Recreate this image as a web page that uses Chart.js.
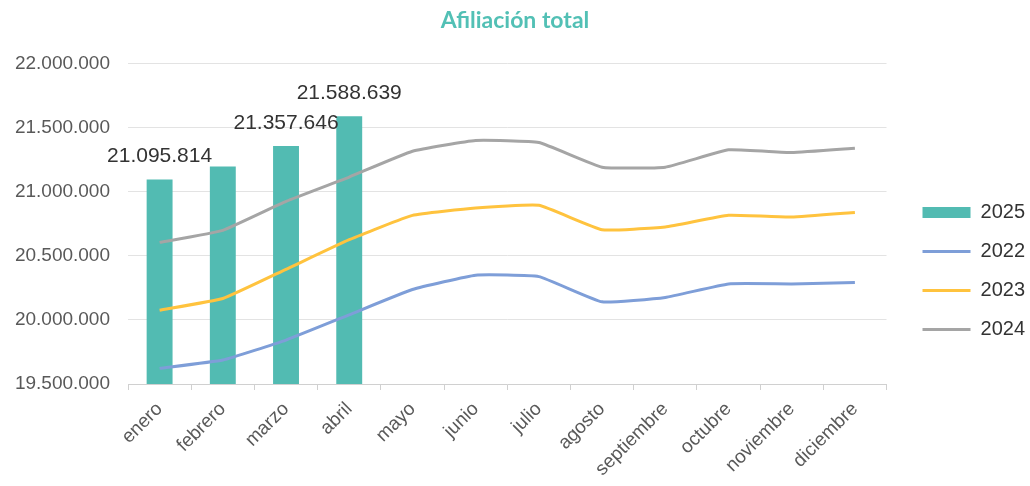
<!DOCTYPE html>
<html>
<head>
<meta charset="utf-8">
<script src="https://cdn.jsdelivr.net/npm/chart.js@4"></script>
<style>
  body { margin: 0; background: #fff; }
  #wrap { width: 1030px; height: 486px; }
</style>
</head>
<body>
<div id="wrap"><canvas id="afiliacionChart" width="1030" height="486"></canvas></div>
<script>
// Meses y valores de afiliación
const meses = ['enero', 'febrero', 'marzo', 'abril', 'mayo', 'junio', 'julio', 'agosto', 'septiembre', 'octubre', 'noviembre', 'diciembre'];
const afil2025 = [21095814, 21197000, 21357646, 21588639];
const afil2022 = [19622000, 19687000, 19843000, 20040000, 20237000, 20349000, 20338000, 20141000, 20175000, 20281000, 20281000, 20292000];
const afil2023 = [20076000, 20167000, 20395000, 20626000, 20816000, 20873000, 20894000, 20704000, 20725000, 20816000, 20803000, 20839000];
const afil2024 = [20605000, 20699000, 20925000, 21115000, 21316000, 21400000, 21384000, 21192000, 21192000, 21327000, 21306000, 21340000];
// etiquetas visibles sobre las barras de 2025 (febrero sin etiqueta)
const etiquetaVisible = [true, false, true, true];
const yTicks = [19500000, 20000000, 20500000, 21000000, 21500000, 22000000];

const FONT = "'Liberation Sans', Arial, sans-serif";

function fmt(v) {
    return String(Math.round(v)).replace(/\B(?=(\d{3})+(?!\d))/g, '.');
}

// Dibuja los valores encima de las barras
const barLabels = {
    id: 'barLabels',
    afterDatasetsDraw(chart) {
        const meta = chart.getDatasetMeta(0);
        const ctx = chart.ctx;
        ctx.save();
        ctx.font = '21px ' + FONT;
        ctx.fillStyle = '#333333';
        ctx.textAlign = 'center';
        ctx.textBaseline = 'middle';
        meta.data.forEach((bar, i) => {
            if (!etiquetaVisible[i]) return;
            ctx.fillText(fmt(afil2025[i]), bar.x, bar.y - 23);
        });
        ctx.restore();
    }
};

// Ajuste del hueco de la leyenda (más ancho y un poco más abajo)
const legendBox = {
    id: 'legendBox',
    afterInit(chart) {
        const lg = chart.legend;
        const fit = lg.fit;
        lg.fit = function() {
            fit.call(this);
            this.width += 12;
        };
    },
    afterLayout(chart) {
        const lg = chart.legend;
        lg.left += 17;
        lg.right += 17;
        lg.top += 28;
        lg.bottom += 28;
    }
};

new Chart(document.getElementById('afiliacionChart').getContext('2d'), {
    type: 'bar',
    data: {
        labels: meses,
        datasets: [{
            type: 'bar',
            label: '2025',
            data: afil2025,
            backgroundColor: '#52BBB2',
            borderWidth: 0,
            barPercentage: 0.41,
            categoryPercentage: 1,
            pointStyle: 'rect',
            order: 1
        }, {
            type: 'line',
            label: '2022',
            data: afil2022,
            borderColor: '#7E9ED8',
            borderWidth: 3,
            pointRadius: 0,
            pointBorderWidth: 3,
            pointBorderColor: '#7E9ED8',
            pointStyle: 'line',
            tension: 0.12,
            order: 0
        }, {
            type: 'line',
            label: '2023',
            data: afil2023,
            borderColor: '#FFC33E',
            borderWidth: 3,
            pointRadius: 0,
            pointBorderWidth: 3,
            pointBorderColor: '#FFC33E',
            pointStyle: 'line',
            tension: 0.12,
            order: 0
        }, {
            type: 'line',
            label: '2024',
            data: afil2024,
            borderColor: '#A5A5A5',
            borderWidth: 3,
            pointRadius: 0,
            pointBorderWidth: 3,
            pointBorderColor: '#A5A5A5',
            pointStyle: 'line',
            tension: 0.12,
            order: 0
        }]
    },
    options: {
        responsive: false,
        animation: false,
        plugins: {
            title: {
                display: true,
                text: 'Afiliación total',
                color: '#52C0B5',
                font: { family: "Lato, 'Open Sans', sans-serif", size: 23, weight: 'bold' },
                padding: { top: 7, bottom: 29 }
            },
            legend: {
                position: 'right',
                align: 'center',
                labels: {
                    usePointStyle: true,
                    pointStyleWidth: 48,
                    boxHeight: 11,
                    padding: 19,
                    color: '#333333',
                    font: { family: FONT, size: 20 },
                    sort: (a, b) => a.datasetIndex - b.datasetIndex
                }
            },
            tooltip: { enabled: false }
        },
        scales: {
            x: {
                offset: true,
                grid: {
                    offset: true,
                    drawOnChartArea: false,
                    drawTicks: true,
                    tickLength: 6,
                    color: '#D0D0D0'
                },
                border: { color: '#D0D0D0', width: 1 },
                ticks: {
                    color: '#595959',
                    font: { family: FONT, size: 19 },
                    maxRotation: 45,
                    minRotation: 45,
                    padding: 8
                },
                afterFit(scale) { scale.height = 102; }
            },
            y: {
                min: 19500000,
                max: 22000000,
                afterBuildTicks(scale) { scale.ticks = yTicks.map(v => ({ value: v })); },
                grid: { color: '#E3E3E3', drawTicks: false },
                border: { display: false },
                ticks: {
                    color: '#595959',
                    font: { family: FONT, size: 19 },
                    padding: 18,
                    callback: v => fmt(v)
                },
                afterFit(scale) { scale.width = 128; }
            }
        }
    },
    plugins: [barLabels, legendBox]
});
</script>
</body>
</html>
